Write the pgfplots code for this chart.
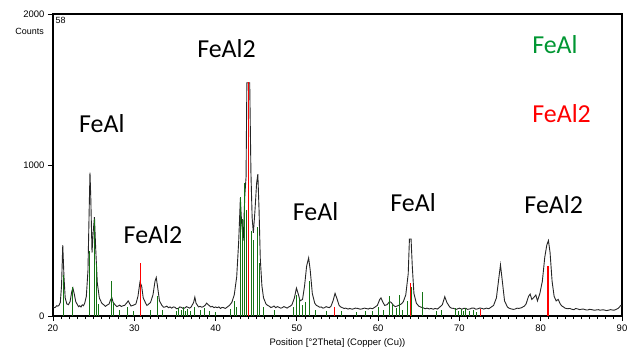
\documentclass[border=0pt]{standalone}
\usepackage{pgfplots}
\pgfplotsset{compat=1.18}
\usepackage{fontspec}
\setmainfont{Liberation Sans}
\newfontfamily\calfont{Carlito}
\definecolor{labgreen}{RGB}{0,150,50}
\definecolor{stickgreen}{RGB}{20,115,20}
\begin{document}
\begin{tikzpicture}
\begin{axis}[
  width=569bp, height=302bp, scale only axis,
  xmin=20, xmax=90, ymin=0, ymax=2000,
  xtick={20,30,...,90}, minor x tick num=9,
  ytick={0,1000,2000},
  xtick pos=lower, ytick pos=left,
  tick align=outside,
  major tick length=5bp, minor tick length=3bp,
  every tick/.style={black, line width=0.8bp},
  axis line style={line width=1.2bp},
  tick label style={font=\fontsize{9.5}{10}\selectfont},
  /pgf/number format/assume math mode=true,
  /pgf/number format/1000 sep={},
  clip=true,
]
% measured profile
\addplot[black!85, line width=0.9bp] coordinates {
(20.0,62)(20.15,55)(20.3,58)(20.45,68)(20.6,65)(20.75,72)(20.9,90)(21.05,200)(21.2,470)(21.35,260)(21.5,120)(21.7,80)(21.9,75)
(22.1,95)(22.3,160)(22.45,185)(22.6,150)(22.8,95)(23.0,75)(23.15,62)(23.3,68)(23.45,60)(23.6,74)(23.75,68)(23.9,85)(24.1,130)
(24.3,300)(24.45,700)(24.55,950)(24.65,780)(24.8,420)(24.95,560)(25.1,655)(25.25,450)(25.45,220)(25.7,120)
(26.0,85)(26.15,78)(26.3,72)(26.45,64)(26.6,70)(26.9,80)(27.1,110)(27.25,120)(27.4,90)(27.7,70)(27.85,62)(28.0,66)(28.2,72)(28.4,63)(28.6,68)(28.8,70)
(29.05,85)(29.25,100)(29.45,80)(29.6,66)(29.8,70)(30.0,74)(30.2,80)(30.45,130)(30.7,225)(30.9,200)(31.1,120)(31.4,85)
(31.55,70)(31.7,75)(32.0,90)(32.3,140)(32.55,230)(32.7,255)(32.85,200)(33.1,100)(33.4,70)(33.6,58)(33.8,60)(34.0,65)(34.2,55)
(34.4,60)(34.6,52)(34.8,60)(35.0,58)(35.2,48)(35.4,50)(35.6,60)(35.8,57)(36.0,50)(36.2,52)(36.4,62)(36.6,58)(36.8,52)(37.0,60)(37.3,90)(37.45,125)
(37.6,85)(37.9,60)(38.1,64)(38.3,58)(38.5,62)(38.7,70)(38.9,85)(39.1,75)(39.4,60)(39.6,64)(39.8,55)(40.0,60)(40.2,55)(40.4,60)(40.6,50)
(40.8,57)(41.0,55)(41.2,50)(41.4,58)(41.7,70)(42.0,90)(42.3,140)(42.6,260)(42.85,500)(43.05,780)(43.2,620)(43.4,500)
(43.6,800)(43.75,920)(43.85,1545)(44.2,1545)(44.35,950)(44.5,650)(44.65,550)(44.85,700)(45.05,880)(45.2,940)
(45.35,700)(45.5,380)(45.7,200)(45.9,120)(46.2,80)(46.4,70)(46.6,65)(46.8,56)(47.0,60)(47.2,66)(47.4,55)(47.6,62)(47.8,58)(48.0,52)
(48.2,55)(48.4,62)(48.6,58)(48.8,52)(49.0,60)(49.2,65)(49.4,75)(49.7,120)(49.95,185)(50.15,150)(50.4,100)(50.7,110)(50.95,200)
(51.2,330)(51.45,385)(51.65,300)(51.9,150)(52.2,85)(52.4,70)(52.6,65)(52.8,58)(53.0,60)(53.2,52)(53.4,55)(53.6,62)(53.8,58)
(54.0,55)(54.2,65)(54.45,100)(54.7,150)(54.9,120)(55.2,70)(55.4,60)(55.6,55)(55.8,50)(56.0,52)(56.3,46)(56.5,50)(56.8,45)(57.0,48)
(57.2,52)(57.5,50)(57.8,45)(58.0,47)(58.3,52)(58.5,50)(58.8,46)(59.0,52)(59.3,48)(59.5,55)(59.9,70)(60.2,110)(60.35,120)
(60.55,95)(60.8,70)(61.1,75)(61.4,95)(61.6,90)(61.9,70)(62.1,62)(62.3,65)(62.5,70)(62.7,75)(62.9,82)(63.1,95)(63.4,140)
(63.7,280)(63.85,510)(64.05,510)(64.2,330)(64.4,150)(64.7,85)(65.0,65)(65.3,58)(65.5,55)(65.8,48)(66.0,52)
(66.3,47)(66.5,50)(66.8,45)(67.0,50)(67.3,46)(67.5,55)(67.9,75)(68.2,128)(68.45,90)(68.8,60)(69.0,52)(69.3,50)
(69.6,44)(69.8,48)(70.0,52)(70.3,45)(70.5,50)(70.8,50)(71.0,44)(71.3,47)(71.5,52)(71.8,52)(72.0,45)(72.3,48)
(72.5,53)(72.8,50)(73.0,46)(73.3,52)(73.6,48)(73.8,55)(74.2,70)(74.55,120)(74.8,230)(75.05,338)(75.3,220)
(75.55,100)(75.9,60)(76.1,52)(76.3,48)(76.6,44)(76.8,45)(77.1,52)(77.3,50)(77.6,54)(77.8,60)(78.0,66)(78.2,80)
(78.5,130)(78.7,145)(78.9,110)(79.1,120)(79.4,139)(79.6,100)(79.9,150)(80.2,230)(80.5,390)(80.75,470)
(80.95,500)(81.15,420)(81.4,230)(81.65,130)(81.9,100)(82.15,110)(82.4,80)(82.6,66)(82.8,60)(83.0,52)(83.3,48)(83.6,50)
(83.8,45)(84.1,42)(84.3,50)(84.6,46)(84.8,42)(85.1,46)(85.3,45)(85.6,40)(85.8,40)(86.0,44)(86.3,42)(86.6,38)(86.8,40)
(87.1,42)(87.3,38)(87.6,41)(87.8,40)(88.1,36)(88.3,38)(88.6,42)(88.8,40)(89.0,38)(89.2,42)(89.5,50)(89.7,60)(89.85,70)(90.0,65)
};
% FeAl reference sticks
\addplot[ycomb, stickgreen, line width=1bp, mark=none] coordinates {
(21.25,270)(22.45,190)(24.5,430)(25.05,640)(25.3,350)(25.6,80)(27.15,235)(27.5,90)(28.2,40)(29.2,60)
(29.9,30)(32.0,40)(32.9,130)(33.5,40)(35.2,30)(35.5,55)(35.8,40)(36.0,60)(36.3,35)(36.6,45)(36.9,30)
(37.4,60)(38.1,40)(38.6,55)(39.3,35)(40.0,25)(41.8,45)(42.3,100)(42.55,60)(43.05,790)(43.3,640)
(43.5,880)(43.75,700)(44.4,560)(44.65,500)(45.15,590)(45.4,350)(45.9,60)(47.3,40)(49.6,60)(50.0,140)
(50.3,120)(50.7,70)(51.1,90)(51.6,230)(52.3,40)(53.6,35)(55.5,30)(57.3,25)(58.4,30)(59.3,35)(60.0,60)
(60.6,40)(61.4,130)(61.8,80)(62.2,50)(62.6,140)(63.0,40)(63.6,100)(64.1,190)(65.4,160)(67.2,30)(67.8,40)
(69.5,50)(69.9,35)(70.2,45)(70.5,30)(70.8,50)(71.3,35)(71.7,40)(72.1,25)
};
% FeAl2 reference sticks
\addplot[ycomb, red, line width=1.3bp, mark=none] coordinates {
(30.8,350)(44.02,1550)(54.65,60)(63.95,220)(72.6,45)(80.9,330)
};
% annotations
\node[font=\calfont\fontsize{26}{28}\selectfont] at (axis cs:26.0,1272) {FeAl};
\node[font=\calfont\fontsize{26}{28}\selectfont] at (axis cs:41.35,1770) {FeAl2};
\node[font=\calfont\fontsize{26}{28}\selectfont] at (axis cs:32.3,536) {FeAl2};
\node[font=\calfont\fontsize{26}{28}\selectfont] at (axis cs:52.3,689) {FeAl};
\node[font=\calfont\fontsize{26}{28}\selectfont] at (axis cs:64.3,748) {FeAl};
\node[font=\calfont\fontsize{26}{28}\selectfont] at (axis cs:81.6,735) {FeAl2};
\node[font=\calfont\fontsize{26}{28}\selectfont, text=labgreen] at (axis cs:81.75,1797) {FeAl};
\node[font=\calfont\fontsize{26}{28}\selectfont, text=red] at (axis cs:82.57,1338) {FeAl2};
\node[font=\fontsize{9}{10}\selectfont, anchor=north west, inner sep=0pt] at ([shift={(2.5bp,-3bp)}]rel axis cs:0,1) {58};
\end{axis}
\node[font=\fontsize{9}{10}\selectfont, anchor=east, inner sep=0pt] at ([shift={(-9bp,-17bp)}]current axis.north west) {Counts};
\node[font=\fontsize{9.5}{10}\selectfont, anchor=center, inner sep=0pt] at ([yshift=-27bp]current axis.south) {Position [°2Theta] (Copper (Cu))};
\pgfresetboundingbox
\path[use as bounding box] ([shift={(-53bp,-40bp)}]current axis.south west) rectangle ([shift={(11bp,14bp)}]current axis.north east);
\end{tikzpicture}
\end{document}
